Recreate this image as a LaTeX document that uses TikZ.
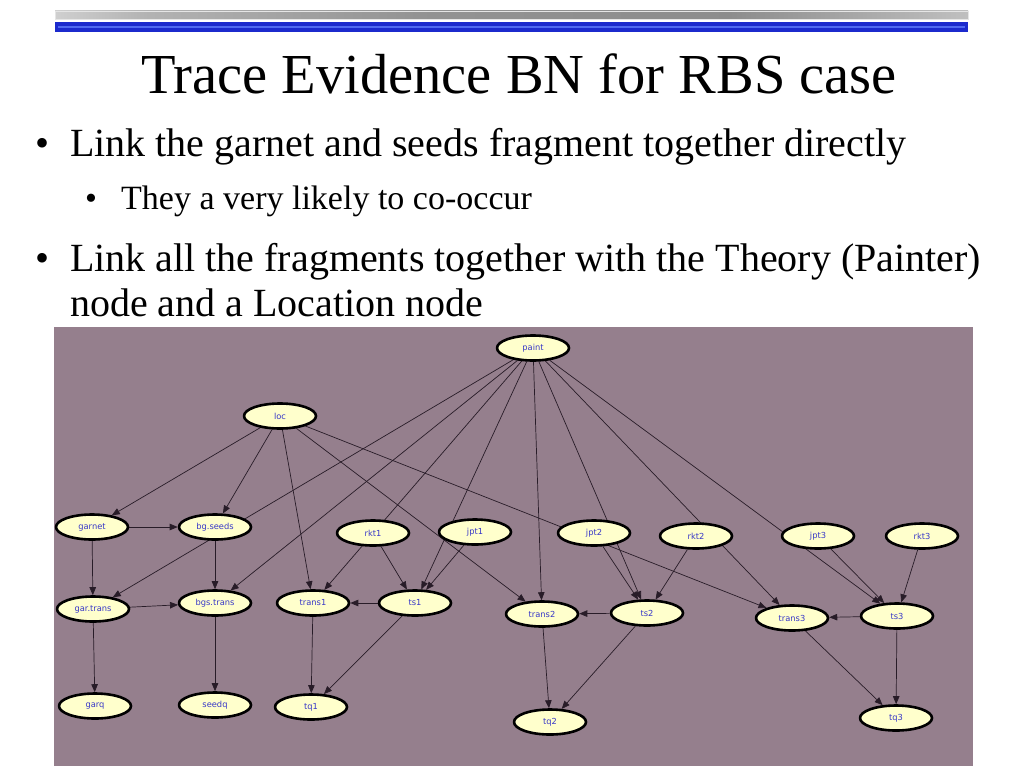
\documentclass[tikz,border=0pt]{standalone}
\usepackage{fontspec}
\setmainfont{Liberation Serif}
\newfontfamily\bnfont{DejaVu Sans}
\usetikzlibrary{shapes.geometric,arrows.meta}
\definecolor{panel}{RGB}{149,127,141}
\definecolor{nodefill}{RGB}{255,255,204}
\definecolor{labelblue}{RGB}{55,55,200}
\definecolor{edgecol}{RGB}{40,28,40}
\definecolor{barblue}{RGB}{28,42,205}
\definecolor{barlight}{RGB}{80,105,240}
\pgfdeclarelayer{back}
\pgfdeclarelayer{links}
\pgfsetlayers{back,links,main}
\pgfdeclarehorizontalshading{graybar}{100bp}{color(0bp)=(gray!75); color(12bp)=(gray!55); color(20bp)=(gray!15); color(30bp)=(gray!60); color(45bp)=(gray!85); color(62bp)=(gray!90); color(75bp)=(gray!50); color(88bp)=(gray!10); color(100bp)=(gray!20)}
\tikzset{
	bnnode/.style={ellipse, draw=black, line width=2.6pt, fill=nodefill, minimum width=72pt, minimum height=25pt, inner sep=0pt, font=\bnfont\fontsize{8.3}{10}\selectfont, text=labelblue},
	link/.style={->, draw=edgecol, line width=0.7pt},
	slidetext/.style={anchor=base west, inner sep=0pt},
}
\begin{document}
\begin{tikzpicture}[x=1pt, y=-1pt, >={Triangle[length=8pt,width=6.5pt]}, line join=round]
	\useasboundingbox (0,0) rectangle (1024,768);
	% header bars
	\begin{pgfonlayer}{back}
		\shade[shading=graybar] (55,11) rectangle (968,19);
		\draw[gray!20, line width=0.8pt] (55,11) rectangle (968,19);
		\fill[barblue] (55,22) rectangle (968,32);
		\draw[barlight, line width=1.2pt] (58,27) -- (965,27);
		\fill[panel] (54,327) rectangle (973,766);
	\end{pgfonlayer}
	% slide text
	\node[anchor=base, inner sep=0pt, font=\fontsize{56.5}{60}\selectfont] (title) at (519,93) {Trace Evidence BN for RBS case};
	\node[anchor=base, inner sep=0pt, font=\fontsize{40}{45}\selectfont] (dotA) at (43,156) {\textbullet};
	\node[slidetext, font=\fontsize{40}{45}\selectfont] (bulA) at (70,156) {Link the garnet and seeds fragment together directly};
	\node[anchor=base, inner sep=0pt, font=\fontsize{34}{40}\selectfont] (dotAa) at (91,209) {\textbullet};
	\node[slidetext, font=\fontsize{34}{40}\selectfont] (bulAa) at (121,209) {They a very likely to co-occur};
	\node[anchor=base, inner sep=0pt, font=\fontsize{40}{45}\selectfont] (dotB) at (43,271) {\textbullet};
	\node[slidetext, font=\fontsize{40}{45}\selectfont] (bulB) at (70,271) {Link all the fragments together with the Theory (Painter)};
	\node[slidetext, font=\fontsize{40}{45}\selectfont] (bulBb) at (70,316) {node and a Location node};
	% network
	\foreach \n/\x/\y/\t in {paint/533/348/paint, loc/280/416/loc,
		garnet/92/527/garnet, bgseeds/215/527/bg.seeds, rkt1/373/533/rkt1, jpt1/475/532/jpt1,
		jpt2/594/533/jpt2, rkt2/696/536/rkt2, jpt3/818/536/jpt3, rkt3/922/536/rkt3,
		gartrans/93/609/gar.trans, bgstrans/215/603/bgs.trans, trans1/313/603/trans1, ts1/415/603/ts1,
		trans2/542/614/trans2, ts2/647/613/ts2, trans3/792/618/trans3, ts3/897/616/ts3,
		garq/95/706/garq, seedq/215/705/seedq, tq1/311/707/tq1, tq2/550/722/tq2, tq3/896/718/tq3}
		\node[bnnode] (\n) at (\x,\y) {\t};
	\begin{pgfonlayer}{links}
		\foreach \a/\b in {loc/garnet, loc/bgseeds, loc/trans1, loc/trans2, loc/trans3,
			paint/gartrans, paint/bgstrans, paint/trans1, paint/ts1, paint/trans2, paint/ts2, paint/trans3, paint/ts3,
			garnet/bgseeds, garnet/gartrans, bgseeds/bgstrans, gartrans/bgstrans, gartrans/garq, bgstrans/seedq,
			rkt1/ts1, jpt1/ts1, ts1/trans1, trans1/tq1, ts1/tq1,
			rkt2/ts2, jpt2/ts2, ts2/trans2, trans2/tq2, ts2/tq2,
			rkt3/ts3, jpt3/ts3, ts3/trans3, trans3/tq3, ts3/tq3}
			\draw[link] (\a) -- (\b);
	\end{pgfonlayer}
\end{tikzpicture}
\end{document}
